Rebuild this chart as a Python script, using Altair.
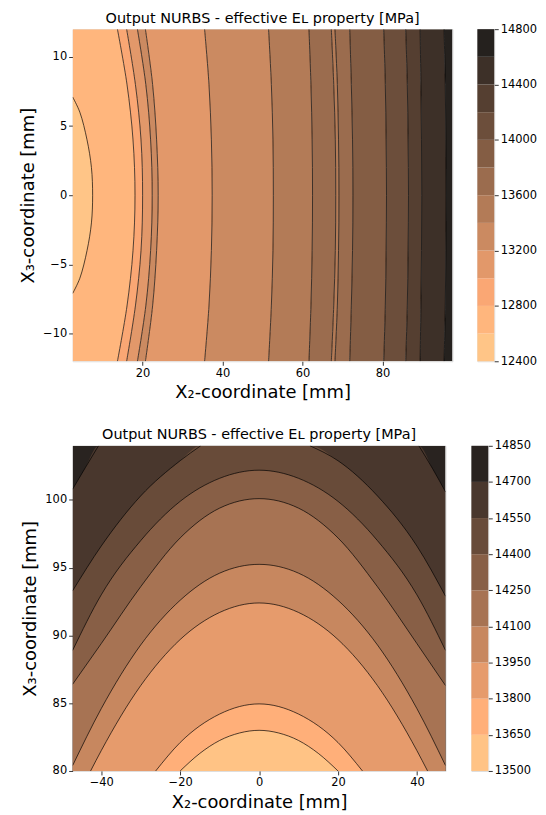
import altair as alt
import pandas as pd

FONT = "DejaVu Sans"
TITLE = "Output NURBS - effective Eʟ property [MPa]"
XTITLE = "X₂-coordinate [mm]"
YTITLE = "X₃-coordinate [mm]"

# ---------------- top panel ----------------
TOP_X_DOMAIN = [2.5, 97.5]
TOP_Y_DOMAIN = [-12, 12]
TOP_X_TICKS = [20, 40, 60, 80]
TOP_Y_TICKS = [-10, -5, 0, 5, 10]
TOP_LEVELS = [12400, 12600, 12800, 13000, 13200, 13400, 13600,
              13800, 14000, 14200, 14400, 14600, 14800]
TOP_CBAR_TICKS = [12400, 12800, 13200, 13600, 14000, 14400, 14800]

# contour lines: x position read at each y sample
TOP_Y = [-12, -8, -4, 0, 4, 8, 12]
TOP_CURVES = [
    [13.7, 16.1, 17.6, 18.1, 17.6, 16.1, 13.7],   # 12800
    [16.0, 18.2, 19.6, 20.0, 19.6, 18.2, 16.0],   # 13000
    [18.7, 20.8, 22.0, 22.4, 22.0, 20.8, 18.7],   # 13200
    [20.7, 22.5, 23.5, 23.9, 23.5, 22.5, 20.7],   # 13200
    [35.5, 36.6, 37.2, 37.4, 37.2, 36.6, 35.5],   # 13200
    [51.5, 52.2, 52.6, 52.7, 52.6, 52.2, 51.5],   # 13400
    [61.6, 62.1, 62.4, 62.5, 62.4, 62.1, 61.6],   # 13600
    [67.2, 67.8, 68.2, 68.3, 68.2, 67.8, 67.2],   # 13600
    [68.1, 68.7, 69.0, 69.1, 69.0, 68.7, 68.1],   # 13600
    [71.8, 72.2, 72.5, 72.6, 72.5, 72.2, 71.8],   # 13800
    [80.3, 80.7, 80.9, 81.0, 80.9, 80.7, 80.3],   # 14000
    [85.8, 86.2, 86.4, 86.5, 86.4, 86.2, 85.8],   # 14200
    [89.4, 89.6, 89.75, 89.8, 89.75, 89.6, 89.4], # 14400
    [95.4, 95.7, 95.85, 95.9, 95.85, 95.7, 95.4], # 14600
]
# band index (level interval) between successive boundaries, left to right
TOP_BANDS = [1, 2, 3, 4, 3, 4, 5, 6, 5, 6, 7, 8, 9, 10, 11]
# innermost closed contour (12600) on the left edge
TOP_ELL_Y = [-7.1, -6, -4, -2, 0, 2, 4, 6, 7.1]
TOP_ELL_X = [2.5, 4.3, 6.1, 7.2, 7.5, 7.2, 6.1, 4.3, 2.5]

# ---------------- bottom panel ----------------
BOT_X_DOMAIN = [-47.25, 47.25]
BOT_Y_DOMAIN = [80, 104]
BOT_X_TICKS = [-40, -20, 0, 20, 40]
BOT_Y_TICKS = [80, 85, 90, 95, 100]
BOT_LEVELS = [13500, 13650, 13800, 13950, 14100, 14250, 14400, 14550, 14700, 14850]
BOT_CBAR_TICKS = [13500, 13650, 13800, 13950, 14100, 14250, 14400, 14550, 14700, 14850]

XS = [-47.25, -40, -30, -20, -10, 0, 10, 20, 30, 40, 47.25]
BOT_CURVES = [
    # (band below the curve, x list, y list)
    (0, [-20, -15, -10, -5, 0, 5, 10, 15, 20],
        [80, 81.3, 82.25, 82.8, 83.0, 82.8, 82.25, 81.3, 80]),            # 13650
    (1, [-26.2, -20, -10, 0, 10, 20, 26.2],
        [80, 82.1, 84.2, 84.95, 84.2, 82.1, 80]),                         # 13800
    (2, [-42.7, -40, -30, -20, -10, 0, 10, 20, 30, 40, 42.7],
        [80, 81.5, 86.3, 89.7, 91.7, 92.4, 91.7, 89.7, 86.3, 81.5, 80]),  # 13950
    (3, XS, [80.4, 84.6, 89.3, 92.6, 94.6, 95.25, 94.6, 92.6, 89.3, 84.6, 80.4]),   # 14100
    (4, XS, [86.4, 89.4, 93.6, 97.2, 99.4, 100.1, 99.4, 97.2, 93.6, 89.4, 86.3]),   # 14250
    (5, XS, [88.9, 93.0, 97.0, 99.9, 101.6, 102.2, 101.6, 99.9, 97.0, 93.0, 88.9]), # 14400
    (6, [-47.25, -40, -30, -20, -14.8, 12.9, 20, 30, 40, 47.25],
        [93.3, 96.6, 100.3, 102.9, 104, 104, 102.9, 100.3, 96.6, 92.9]),  # 14550
    (7, [-47.25, -44, -40.7, 40.5, 44, 47.25],
        [100.8, 102.4, 104, 104, 102.3, 100.6]),                          # 14700
]


def copper_r(i, n, alpha=0.9):
    s = 1 - (i + 0.5) / n
    rgb = (min(1.0, s / 0.809524), 0.7812 * s, 0.4975 * s)
    return "#" + "".join("%02x" % round(255 * (alpha * c + 1 - alpha)) for c in rgb)


def axis(values, title, orient=None, fmt="d"):
    kw = dict(values=values, title=title, grid=False, domain=False,
              tickColor="black", tickSize=4, tickWidth=0.8,
              labelColor="black", labelFontSize=11.5, labelFont=FONT,
              labelPadding=2, labelFlush=False, labelOverlap=False,
              titleFont=FONT, titleFontSize=18, titleFontWeight="normal",
              titleColor="black", titlePadding=5, format=fmt)
    if orient:
        kw["orient"] = orient
    return alt.Axis(**kw)


def colorbar(levels, ticks, colors, h):
    df = pd.DataFrame({"lo": levels[:-1], "hi": levels[1:],
                       "band": list(range(len(levels) - 1))})
    return alt.Chart(df).mark_rect().encode(
        x=alt.value(0), x2=alt.value(17),
        y=alt.Y("lo:Q", scale=alt.Scale(domain=[levels[0], levels[-1]], nice=False, zero=False),
                axis=axis(ticks, None, orient="right")),
        y2="hi:Q",
        color=alt.Color("band:O", scale=alt.Scale(domain=list(range(len(colors))), range=colors),
                        legend=None),
    ).properties(width=17, height=h)


title_params = dict(fontSize=14.5, font=FONT, fontWeight="normal", color="black",
                    offset=3, anchor="middle")

# ----- top chart -----
ntop = len(TOP_LEVELS) - 1
top_colors = [copper_r(i, ntop) for i in range(ntop)]
tx = alt.Scale(domain=TOP_X_DOMAIN, nice=False, zero=False)
ty = alt.Scale(domain=TOP_Y_DOMAIN, nice=False, zero=False)
tcol = alt.Scale(domain=list(range(ntop)), range=top_colors)

edges = [[TOP_X_DOMAIN[0]] * len(TOP_Y)] + TOP_CURVES + [[TOP_X_DOMAIN[1]] * len(TOP_Y)]
band_rows = []
for j, b in enumerate(TOP_BANDS):
    for k, y in enumerate(TOP_Y):
        band_rows.append({"seg": j, "band": b, "y": y, "xl": edges[j][k], "xr": edges[j + 1][k]})
band_df = pd.DataFrame(band_rows)

line_rows = []
for c, xs in enumerate(TOP_CURVES):
    for y, x in zip(TOP_Y, xs):
        line_rows.append({"cid": c, "y": y, "x": x})
for y, x in zip(TOP_ELL_Y, TOP_ELL_X):
    line_rows.append({"cid": 99, "y": y, "x": x})
tline_df = pd.DataFrame(line_rows)

ell_df = pd.DataFrame({"y": TOP_ELL_Y, "xl": [TOP_X_DOMAIN[0]] * len(TOP_ELL_Y),
                       "xr": TOP_ELL_X, "band": [0] * len(TOP_ELL_Y)})

top_area = alt.Chart(band_df).mark_area(orient="horizontal", interpolate="catmull-rom",
                                        clip=True).encode(
    y=alt.Y("y:Q", scale=ty, axis=axis(TOP_Y_TICKS, YTITLE)),
    x=alt.X("xl:Q", scale=tx, axis=axis(TOP_X_TICKS, XTITLE)),
    x2="xr:Q",
    color=alt.Color("band:O", scale=tcol, legend=None),
    detail="seg:N",
)
top_ell = alt.Chart(ell_df).mark_area(orient="horizontal", interpolate="catmull-rom",
                                      clip=True).encode(
    y=alt.Y("y:Q", scale=ty), x=alt.X("xl:Q", scale=tx), x2="xr:Q",
    color=alt.Color("band:O", scale=tcol, legend=None),
)
top_lines = alt.Chart(tline_df).mark_line(interpolate="catmull-rom", color="black",
                                          strokeWidth=0.8, opacity=0.85, clip=True).encode(
    x=alt.X("x:Q", scale=tx), y=alt.Y("y:Q", scale=ty), order="y:Q", detail="cid:N",
)
top_plot = alt.layer(top_area, top_ell, top_lines).properties(
    width=382, height=334, title=alt.TitleParams(TITLE, **title_params))
top_cbar = colorbar(TOP_LEVELS, TOP_CBAR_TICKS, top_colors, 334)

# ----- bottom chart -----
nbot = len(BOT_LEVELS) - 1
bot_colors = [copper_r(i, nbot) for i in range(nbot)]
bx = alt.Scale(domain=BOT_X_DOMAIN, nice=False, zero=False)
by = alt.Scale(domain=BOT_Y_DOMAIN, nice=False, zero=False)
bcol = alt.Scale(domain=list(range(nbot)), range=bot_colors)

bg_df = pd.DataFrame({"x": BOT_X_DOMAIN, "y": [BOT_Y_DOMAIN[1]] * 2,
                      "y0": [BOT_Y_DOMAIN[0]] * 2, "band": [nbot - 1] * 2})
bot_layers = [alt.Chart(bg_df).mark_area(orient="vertical", clip=True).encode(
    x=alt.X("x:Q", scale=bx, axis=axis(BOT_X_TICKS, XTITLE)),
    y=alt.Y("y:Q", scale=by, axis=axis(BOT_Y_TICKS, YTITLE)),
    y2="y0:Q",
    color=alt.Color("band:O", scale=bcol, legend=None),
)]
bline_rows = []
for band, xs, ys in reversed(BOT_CURVES):
    df = pd.DataFrame({"x": xs, "y": ys, "y0": [BOT_Y_DOMAIN[0]] * len(xs), "band": [band] * len(xs)})
    bot_layers.append(alt.Chart(df).mark_area(orient="vertical", interpolate="monotone",
                                              clip=True).encode(
        x=alt.X("x:Q", scale=bx), y=alt.Y("y:Q", scale=by), y2="y0:Q",
        color=alt.Color("band:O", scale=bcol, legend=None),
    ))
    for x, y in zip(xs, ys):
        cid = ("%d_%s" % (band, "l" if x < 0 else "r")) if band >= 6 else str(band)
        bline_rows.append({"cid": cid, "x": x, "y": y})
bline_df = pd.DataFrame(bline_rows)
bot_layers.append(alt.Chart(bline_df).mark_line(interpolate="monotone", color="black",
                                                strokeWidth=0.8, opacity=0.85, clip=True).encode(
    x=alt.X("x:Q", scale=bx), y=alt.Y("y:Q", scale=by), detail="cid:N",
))
bot_plot = alt.layer(*bot_layers).properties(
    width=375, height=327, title=alt.TitleParams(TITLE, **title_params))
bot_cbar = colorbar(BOT_LEVELS, BOT_CBAR_TICKS, bot_colors, 327)

chart = alt.vconcat(
    alt.hconcat(top_plot, top_cbar, spacing=23),
    alt.hconcat(bot_plot, bot_cbar, spacing=24),
    spacing=25,
).resolve_scale(color="independent").properties(
    padding={"left": 11, "top": 0, "right": 0, "bottom": 0}
).configure_view(stroke="black", strokeWidth=0.8).configure(font=FONT)

chart.save("out.html", embed_options={"renderer": "svg", "actions": False})
